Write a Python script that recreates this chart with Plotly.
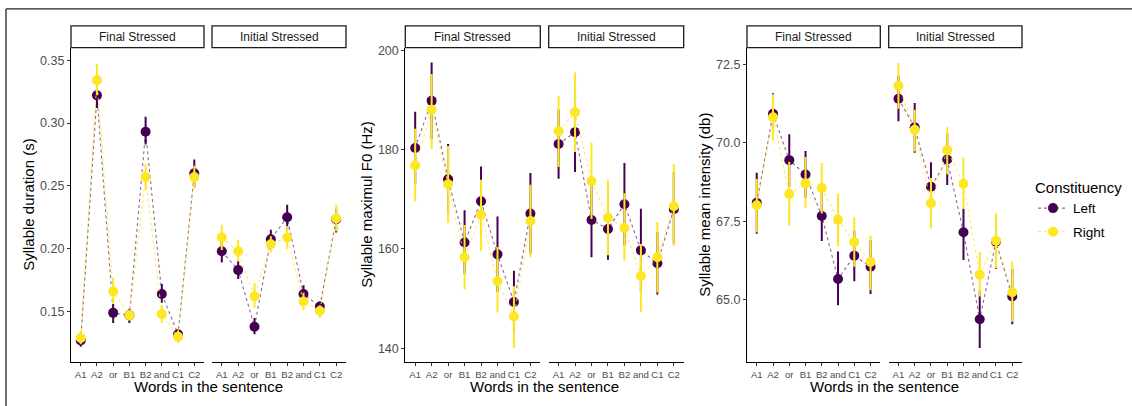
import plotly.graph_objects as go

words = ["A1", "A2", "or", "B1", "B2", "and", "C1", "C2"]
facets = ["Final Stressed", "Initial Stressed"]
groups = ["Left", "Right"]

# Syllable duration (s)
dur_final_left = [0.127, 0.322, 0.149, 0.147, 0.293, 0.164, 0.132, 0.260]
dur_final_left_lo = [0.122, 0.312, 0.141, 0.141, 0.283, 0.157, 0.127, 0.249]
dur_final_left_hi = [0.133, 0.332, 0.156, 0.152, 0.305, 0.172, 0.135, 0.271]
dur_final_right = [0.129, 0.334, 0.166, 0.147, 0.257, 0.148, 0.130, 0.257]
dur_final_right_lo = [0.124, 0.322, 0.156, 0.143, 0.247, 0.141, 0.125, 0.248]
dur_final_right_hi = [0.135, 0.347, 0.177, 0.151, 0.267, 0.155, 0.135, 0.266]
dur_init_left = [0.198, 0.183, 0.138, 0.2075, 0.225, 0.164, 0.154, 0.2235]
dur_init_left_lo = [0.189, 0.176, 0.132, 0.201, 0.215, 0.158, 0.149, 0.213]
dur_init_left_hi = [0.207, 0.190, 0.145, 0.215, 0.235, 0.171, 0.158, 0.232]
dur_init_right = [0.209, 0.198, 0.162, 0.2035, 0.209, 0.158, 0.1505, 0.224]
dur_init_right_lo = [0.199, 0.190, 0.153, 0.197, 0.200, 0.151, 0.145, 0.214]
dur_init_right_hi = [0.219, 0.207, 0.173, 0.210, 0.218, 0.165, 0.155, 0.235]

# Syllable maximum F0 (Hz)
f0_final_left = [180.3, 189.8, 174.0, 161.3, 169.6, 158.9, 149.3, 167.1]
f0_final_left_lo = [173.0, 182.1, 167.0, 155.0, 162.6, 151.3, 143.0, 159.0]
f0_final_left_hi = [187.6, 197.5, 181.1, 167.8, 176.6, 166.5, 155.6, 175.3]
f0_final_right = [176.8, 188.0, 173.0, 158.3, 166.9, 153.5, 146.4, 165.6]
f0_final_right_lo = [169.6, 180.1, 165.2, 151.8, 159.5, 147.2, 140.1, 158.3]
f0_final_right_hi = [184.2, 195.2, 180.7, 164.8, 173.9, 160.4, 152.5, 172.9]
f0_init_left = [181.1, 183.5, 165.8, 164.0, 169.0, 159.7, 157.1, 168.0]
f0_init_left_lo = [174.1, 175.5, 158.3, 157.8, 160.7, 151.3, 150.8, 161.0]
f0_init_left_hi = [188.0, 191.5, 173.4, 170.2, 177.3, 168.1, 163.4, 175.5]
f0_init_right = [183.7, 187.5, 173.6, 166.3, 164.2, 154.5, 158.3, 168.6]
f0_init_right_lo = [176.5, 179.5, 166.0, 158.7, 157.6, 147.3, 151.2, 160.6]
f0_init_right_hi = [190.8, 195.5, 181.4, 173.9, 171.2, 161.0, 165.4, 177.1]

# Syllable mean intensity (db)
int_final_left = [68.09, 70.93, 69.45, 68.99, 67.67, 65.66, 66.40, 66.05]
int_final_left_lo = [67.10, 70.28, 68.60, 68.25, 66.87, 64.82, 65.59, 65.18]
int_final_left_hi = [69.05, 71.58, 70.28, 69.74, 68.45, 66.54, 67.20, 66.90]
int_final_right = [68.01, 70.82, 68.37, 68.71, 68.56, 67.55, 66.84, 66.20]
int_final_right_lo = [67.15, 70.08, 67.37, 67.93, 67.75, 66.70, 66.05, 65.30]
int_final_right_hi = [68.85, 71.55, 69.40, 69.55, 69.36, 68.39, 67.62, 67.05]
int_init_left = [71.41, 70.50, 68.60, 69.47, 67.15, 64.38, 66.85, 65.10]
int_init_left_lo = [70.69, 69.69, 67.83, 68.66, 66.27, 63.46, 65.98, 64.22]
int_init_left_hi = [72.13, 71.27, 69.38, 70.30, 67.90, 65.30, 67.70, 65.98]
int_init_right = [71.82, 70.42, 68.08, 69.77, 68.70, 65.80, 66.88, 65.24]
int_init_right_lo = [71.09, 69.73, 67.27, 69.00, 67.90, 65.10, 66.00, 64.30]
int_init_right_hi = [72.55, 71.06, 68.88, 70.51, 69.53, 66.52, 67.76, 66.22]

y_titles = ["Syllable duration (s)", "Syllable maximul F0 (Hz)", "Syllable mean intensity (db)"]
y_ticks = [[0.15, 0.20, 0.25, 0.30, 0.35], [140, 160, 180, 200], [65.0, 67.5, 70.0, 72.5]]
y_tickfmt = [".2f", "d", ".1f"]
y_ranges = [[0.1098, 0.360], [137.2, 200.53], [63.01, 73.04]]

panels = [
    [[(dur_final_left, dur_final_left_lo, dur_final_left_hi), (dur_final_right, dur_final_right_lo, dur_final_right_hi)],
     [(dur_init_left, dur_init_left_lo, dur_init_left_hi), (dur_init_right, dur_init_right_lo, dur_init_right_hi)]],
    [[(f0_final_left, f0_final_left_lo, f0_final_left_hi), (f0_final_right, f0_final_right_lo, f0_final_right_hi)],
     [(f0_init_left, f0_init_left_lo, f0_init_left_hi), (f0_init_right, f0_init_right_lo, f0_init_right_hi)]],
    [[(int_final_left, int_final_left_lo, int_final_left_hi), (int_final_right, int_final_right_lo, int_final_right_hi)],
     [(int_init_left, int_init_left_lo, int_init_left_hi), (int_init_right, int_init_right_lo, int_init_right_hi)]],
]

W, H = 1132, 406
# facet pixel extents (left, right)
facet_px = [[(71, 204), (212, 346)], [(405.3, 540.3), (548.7, 683.7)], [(747, 880.3), (888.7, 1022)]]
ytitle_px = [29, 367, 705]
top_px, bot_px = 44, 361.7
strip_top = 22

solid = {"Left": "#440154", "Right": "#FDE725"}
faded = {"Left": "rgba(68,1,84,0.6)", "Right": "rgba(253,231,37,0.75)"}
FONT = "Liberation Sans, Arial, sans-serif"

fig = go.Figure()
layout = {}
shapes = []
annotations = []

k = 0
for p in range(3):
    for f in range(2):
        k += 1
        xa = "x" if k == 1 else f"x{k}"
        ya = "y" if k == 1 else f"y{k}"
        for g, gname in enumerate(groups):
            mean, lo, hi = panels[p][f][g]
            fig.add_trace(go.Scatter(
                x=words, y=mean, xaxis=xa, yaxis=ya,
                mode="lines+markers", name=gname, legendgroup=gname,
                showlegend=(k == 1),
                line=dict(color=faded[gname], width=1.1, dash="dot"),
                marker=dict(color=solid[gname], size=10),
                error_y=dict(type="data", symmetric=False,
                             array=[h - m for h, m in zip(hi, mean)],
                             arrayminus=[m - l for m, l in zip(mean, lo)],
                             color=solid[gname], thickness=2, width=0),
            ))
        x0, x1 = facet_px[p][f]
        xkey = "xaxis" if k == 1 else f"xaxis{k}"
        ykey = "yaxis" if k == 1 else f"yaxis{k}"
        layout[xkey] = dict(
            domain=[x0 / W, x1 / W], anchor=ya, type="category",
            categoryorder="array", categoryarray=words, range=[-0.6, 7.6],
            showgrid=False, zeroline=False, showline=True, linecolor="black", linewidth=1.1,
            ticks="outside", ticklen=3, tickcolor="#333333", tickwidth=1, tickangle=0,
            tickfont=dict(family=FONT, size=9.6, color="#4D4D4D"), fixedrange=True,
        )
        yd = dict(
            domain=[(H - bot_px) / H, (H - top_px) / H], anchor=xa,
            range=y_ranges[p], showgrid=False, zeroline=False, fixedrange=True,
        )
        if f == 0:
            yd.update(showline=True, linecolor="black", linewidth=1.1, ticks="outside",
                      ticklen=3, tickcolor="#333333", tickwidth=1,
                      tickvals=y_ticks[p], tickformat=y_tickfmt[p],
                      tickfont=dict(family=FONT, size=12.5, color="#4D4D4D"))
        else:
            yd.update(showline=False, showticklabels=False, ticks="")
        layout[ykey] = yd
        # strip
        shapes.append(dict(type="rect", xref="paper", yref="paper",
                           x0=x0 / W, x1=x1 / W, y0=(H - top_px) / H, y1=(H - strip_top) / H,
                           line=dict(color="#1A1A1A", width=1.3), fillcolor="white"))
        annotations.append(dict(text=facets[f], xref="paper", yref="paper",
                                x=(x0 + x1) / 2 / W, y=(H - (strip_top + top_px) / 2) / H,
                                showarrow=False, xanchor="center", yanchor="middle",
                                font=dict(family=FONT, size=12, color="#1A1A1A")))
    # axis titles
    annotations.append(dict(text=y_titles[p], xref="paper", yref="paper",
                            x=ytitle_px[p] / W, y=(H - (top_px + bot_px) / 2) / H,
                            textangle=-90, showarrow=False, xanchor="center", yanchor="middle",
                            font=dict(family=FONT, size=15, color="black")))
    cx = (facet_px[p][0][0] + facet_px[p][1][1]) / 2
    annotations.append(dict(text="Words in the sentence", xref="paper", yref="paper",
                            x=cx / W, y=(H - 386.5) / H, showarrow=False,
                            xanchor="center", yanchor="middle",
                            font=dict(family=FONT, size=15, color="black")))

# outer frame (top and left edges)
shapes.append(dict(type="line", xref="paper", yref="paper", x0=6 / W, x1=1, y0=(H - 5) / H, y1=(H - 5) / H,
                   line=dict(color="#222222", width=1.3)))
shapes.append(dict(type="line", xref="paper", yref="paper", x0=6 / W, x1=6 / W, y0=0, y1=(H - 5) / H,
                   line=dict(color="#222222", width=1.3)))

fig.update_layout(
    width=W, height=H, margin=dict(l=0, r=0, t=0, b=0),
    paper_bgcolor="white", plot_bgcolor="white",
    font=dict(family=FONT),
    shapes=shapes, annotations=annotations,
    showlegend=True,
    legend=dict(x=1033 / W, y=(H - 171) / H, xanchor="left", yanchor="top",
                title=dict(text="Constituency", font=dict(family=FONT, size=15, color="black")),
                font=dict(family=FONT, size=13.5, color="black"),
                tracegroupgap=3, bgcolor="rgba(0,0,0,0)", itemwidth=30),
    **layout,
)

fig.write_html("out.html")
